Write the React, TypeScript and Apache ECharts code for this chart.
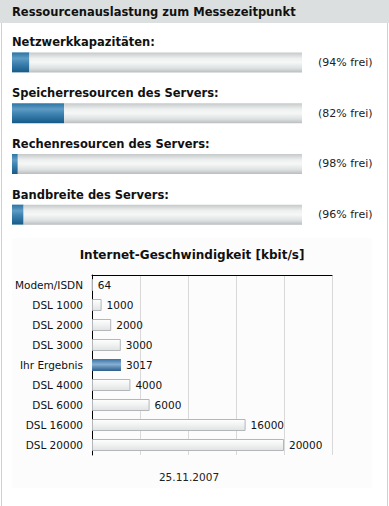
import React, { useEffect, useRef } from "react";
import * as echarts from "echarts";

const pageTitle = "Ressourcenauslastung zum Messezeitpunkt";
const resourceNames = [
  "Netzwerkkapazitäten:",
  "Speicherresourcen des Servers:",
  "Rechenresourcen des Servers:",
  "Bandbreite des Servers:",
];
const freePercent = [94, 82, 98, 96];

const speedTitle = "Internet-Geschwindigkeit [kbit/s]";
const speedCategories = [
  "Modem/ISDN",
  "DSL 1000",
  "DSL 2000",
  "DSL 3000",
  "Ihr Ergebnis",
  "DSL 4000",
  "DSL 6000",
  "DSL 16000",
  "DSL 20000",
];
const speedValues = [64, 1000, 2000, 3000, 3017, 4000, 6000, 16000, 20000];
const highlightCategory = "Ihr Ergebnis";
const dateLabel = "25.11.2007";

const FONT = "'DejaVu Sans', Verdana, sans-serif";

export default function App() {
  const ref = useRef<HTMLDivElement>(null);
  useEffect(() => {
    if (!ref.current) return;
    const chart = echarts.init(ref.current, null, { renderer: "svg" });
    const lg = (stops: [number, string][]) =>
      new echarts.graphic.LinearGradient(
        0, 0, 0, 1,
        stops.map(([offset, color]) => ({ offset, color }))
      );
    const blue = lg([
      [0, "#2a74a4"],
      [0.3, "#5f9cc4"],
      [0.55, "#3d82b0"],
      [1, "#165b88"],
    ]);
    const track = lg([
      [0, "#c4c8c9"],
      [0.3, "#eef0f0"],
      [0.5, "#f6f7f7"],
      [0.8, "#dde0e1"],
      [1, "#babebf"],
    ]);
    const smallBar = lg([
      [0, "#ffffff"],
      [1, "#e1e3e4"],
    ]);
    const blueBar = lg([
      [0, "#3a72a3"],
      [0.45, "#86afd2"],
      [1, "#2b5d8c"],
    ]);
    const used = freePercent.map((f) => 100 - f);

    chart.setOption({
      animation: false,
      backgroundColor: "#ffffff",
      graphic: [
        {
          type: "rect",
          shape: { x: 0, y: 0, width: 389, height: 23 },
          style: { fill: "#dcdfdf" },
          z: 0,
        },
        {
          type: "line",
          shape: { x1: 1.5, y1: 23, x2: 1.5, y2: 506 },
          style: { stroke: "#cfd1d1", lineWidth: 1 },
        },
        {
          type: "line",
          shape: { x1: 387.5, y1: 23, x2: 387.5, y2: 506 },
          style: { stroke: "#cfd1d1", lineWidth: 1 },
        },
        {
          type: "text",
          x: 12,
          y: 12,
          style: {
            text: pageTitle,
            font: `bold 11.5px ${FONT}`,
            fill: "#111",
            verticalAlign: "middle",
          },
        },
        {
          type: "rect",
          shape: { x: 12, y: 238, width: 360, height: 250 },
          style: { fill: "#fcfcfc" },
          z: -1,
        },
        {
          type: "text",
          x: 192,
          y: 255,
          style: {
            text: speedTitle,
            font: `bold 12px ${FONT}`,
            fill: "#111",
            align: "center",
            verticalAlign: "middle",
          },
        },
        {
          type: "text",
          x: 189,
          y: 477,
          style: {
            text: dateLabel,
            font: `10.5px ${FONT}`,
            fill: "#222",
            align: "center",
            verticalAlign: "middle",
          },
        },
      ],
      grid: [
        { left: 12, right: 87, top: 37, height: 203, containLabel: false },
        { left: 92, right: 57, top: 275, bottom: 51, containLabel: false },
      ],
      xAxis: [
        { gridIndex: 0, type: "value", min: 0, max: 100, show: false },
        {
          gridIndex: 1,
          type: "value",
          min: 0,
          max: 25000,
          interval: 5000,
          position: "top",
          axisLine: { show: true, lineStyle: { color: "#000", width: 1 } },
          axisTick: { show: false },
          axisLabel: { show: false },
          splitLine: { show: true, lineStyle: { color: "#d9d9d9", width: 1 } },
        },
      ],
      yAxis: [
        {
          gridIndex: 0,
          type: "category",
          data: resourceNames,
          inverse: true,
          show: false,
        },
        {
          gridIndex: 1,
          type: "category",
          data: speedCategories,
          inverse: true,
          axisLine: { show: true, lineStyle: { color: "#000", width: 1 } },
          axisTick: { show: false },
          axisLabel: {
            fontFamily: FONT,
            fontSize: 10.5,
            color: "#111",
            margin: 9,
          },
          splitLine: { show: false },
        },
      ],
      series: [
        {
          type: "bar",
          xAxisIndex: 0,
          yAxisIndex: 0,
          stack: "res",
          data: used,
          barWidth: 20,
          itemStyle: { color: blue },
          label: {
            show: true,
            position: [0, -10],
            align: "left",
            verticalAlign: "middle",
            formatter: "{b}",
            fontFamily: FONT,
            fontWeight: "bold",
            fontSize: 11.5,
            color: "#111",
          },
        },
        {
          type: "bar",
          xAxisIndex: 0,
          yAxisIndex: 0,
          stack: "res",
          data: freePercent,
          barWidth: 20,
          itemStyle: { color: track },
          label: {
            show: true,
            position: "right",
            distance: 16,
            formatter: "({c}% frei)",
            fontFamily: FONT,
            fontSize: 11,
            color: "#222",
          },
        },
        {
          type: "bar",
          xAxisIndex: 1,
          yAxisIndex: 1,
          barWidth: 12,
          data: speedValues.map((v, i) => ({
            value: v,
            itemStyle:
              speedCategories[i] === highlightCategory
                ? { color: blueBar, borderColor: "#2b5d8c", borderWidth: 0 }
                : { color: smallBar, borderColor: "#b3b7b9", borderWidth: 1 },
          })),
          label: {
            show: true,
            position: "right",
            distance: 5,
            fontFamily: FONT,
            fontSize: 10.5,
            color: "#111",
          },
        },
      ],
    });
    return () => chart.dispose();
  }, []);
  return (
    <div
      ref={ref}
      style={{ position: "fixed", left: 0, top: 0, width: 389, height: 506 }}
    />
  );
}
